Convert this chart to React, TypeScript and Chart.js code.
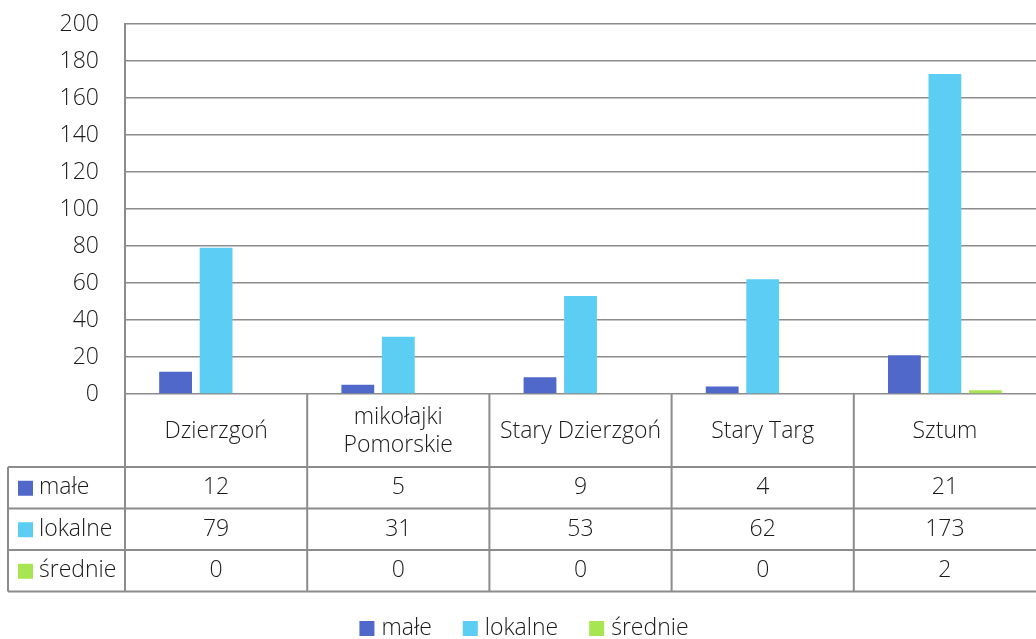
import React, { useEffect, useRef } from "react";
import { Chart, registerables } from "chart.js";

Chart.register(...registerables);

const categories: string[][] = [["Dzierzgoń"], ["mikołajki", "Pomorskie"], ["Stary Dzierzgoń"], ["Stary Targ"], ["Sztum"]];
const seriesNames = ["małe", "lokalne", "średnie"];
const maleValues = [12, 5, 9, 4, 21];
const lokalneValues = [79, 31, 53, 62, 173];
const srednieValues = [0, 0, 0, 0, 2];
const seriesColors = ["#4f68c9", "#5ccef4", "#a8e552"];
const yTicks = [0, 20, 40, 60, 80, 100, 120, 140, 160, 180, 200];

const FONT = "'Open Sans', 'DejaVu Sans', sans-serif";
const FS = 23;
const TEXT = "#1a1a1a";
const LINE = "#8c8c8c";

const tablePlugin = {
  id: "dataTable",
  afterDraw(chart: any) {
    const { ctx, chartArea } = chart;
    const x = chart.scales.x;
    const left = chartArea.left;
    const right = chartArea.right;
    const bottom = chartArea.bottom;
    const tableLeft = 8;
    const headerH = 73;
    const rowH = 41.5;
    const rowTops = [bottom + headerH, bottom + headerH + rowH, bottom + headerH + 2 * rowH, bottom + headerH + 3 * rowH];
    const n = categories.length;
    const step = x.getPixelForValue(1) - x.getPixelForValue(0);
    const bounds: number[] = [];
    for (let i = 0; i <= n; i++) bounds.push(x.getPixelForValue(i) - step / 2);
    bounds[0] = left;

    ctx.save();
    ctx.strokeStyle = LINE;
    ctx.lineWidth = 2;
    ctx.beginPath();
    rowTops.forEach((y) => {
      ctx.moveTo(tableLeft, y);
      ctx.lineTo(right, y);
    });
    ctx.moveTo(tableLeft, rowTops[0]);
    ctx.lineTo(tableLeft, rowTops[3]);
    for (let i = 0; i < n; i++) {
      ctx.moveTo(bounds[i], bottom);
      ctx.lineTo(bounds[i], rowTops[3]);
    }
    ctx.stroke();

    ctx.fillStyle = TEXT;
    ctx.font = `300 ${FS}px ${FONT}`;
    ctx.textAlign = "center";
    ctx.textBaseline = "middle";
    const headerMid = bottom + headerH / 2 + 1;
    categories.forEach((lines, i) => {
      const cx = x.getPixelForValue(i);
      const lh = 28;
      lines.forEach((t, j) => {
        ctx.fillText(t, cx, headerMid + (j - (lines.length - 1) / 2) * lh);
      });
    });
    const series = [maleValues, lokalneValues, srednieValues];
    series.forEach((vals, r) => {
      const cy = rowTops[r] + rowH / 2;
      vals.forEach((v, i) => {
        ctx.textAlign = "center";
        ctx.fillText(String(v), x.getPixelForValue(i), cy);
      });
      ctx.fillStyle = seriesColors[r];
      ctx.fillRect(18, cy - 7, 15, 15);
      ctx.fillStyle = TEXT;
      ctx.textAlign = "left";
      ctx.fillText(seriesNames[r], 39, cy);
    });

    // bottom legend
    const gapMarker = 7;
    const gapItem = 31;
    const widths = seriesNames.map((s) => ctx.measureText(s).width);
    const total = widths.reduce((a, w) => a + 15 + gapMarker + w, 0) + gapItem * (seriesNames.length - 1);
    let lx = chart.width / 2 - total / 2 + 6;
    const ly = 628;
    seriesNames.forEach((s, i) => {
      ctx.fillStyle = seriesColors[i];
      ctx.fillRect(lx, ly - 7, 15, 15);
      ctx.fillStyle = TEXT;
      ctx.textAlign = "left";
      ctx.fillText(s, lx + 15 + gapMarker, ly);
      lx += 15 + gapMarker + widths[i] + gapItem;
    });
    ctx.restore();
  },
};

export default function App() {
  const ref = useRef<HTMLCanvasElement | null>(null);
  useEffect(() => {
    if (!ref.current) return;
    const chart = new Chart(ref.current, {
      type: "bar",
      data: {
        labels: categories.map((c) => c.join(" ")),
        datasets: [
          { label: seriesNames[0], data: maleValues, backgroundColor: seriesColors[0] },
          { label: seriesNames[1], data: lokalneValues, backgroundColor: seriesColors[1] },
          { label: seriesNames[2], data: srednieValues, backgroundColor: seriesColors[2] },
        ],
      },
      options: {
        animation: false,
        responsive: false,
        maintainAspectRatio: false,
        layout: { padding: { top: 24, bottom: 245, left: 0, right: 0 } },
        datasets: { bar: { barPercentage: 0.81, categoryPercentage: 0.667 } },
        plugins: { legend: { display: false }, tooltip: { enabled: false } },
        scales: {
          x: { display: false },
          y: {
            min: 0,
            max: 200,
            afterBuildTicks: (scale: any) => {
              scale.ticks = yTicks.map((v) => ({ value: v }));
            },
            afterFit: (scale: any) => {
              scale.width = 125;
              scale.paddingTop = 0;
              scale.paddingBottom = 0;
            },
            grid: { color: LINE, lineWidth: 1.5, drawTicks: false },
            border: { display: true, color: LINE, width: 2 },
            ticks: {
              padding: 26,
              color: TEXT,
              font: { family: FONT, size: FS, weight: "300" as any },
            },
          },
        },
      },
      plugins: [tablePlugin],
    });
    return () => chart.destroy();
  }, []);
  return (
    <div style={{ position: "fixed", left: 0, top: 0, width: 1036, height: 639, background: "#fff" }}>
      <canvas ref={ref} width={1036} height={639} style={{ width: 1036, height: 639 }} />
    </div>
  );
}
